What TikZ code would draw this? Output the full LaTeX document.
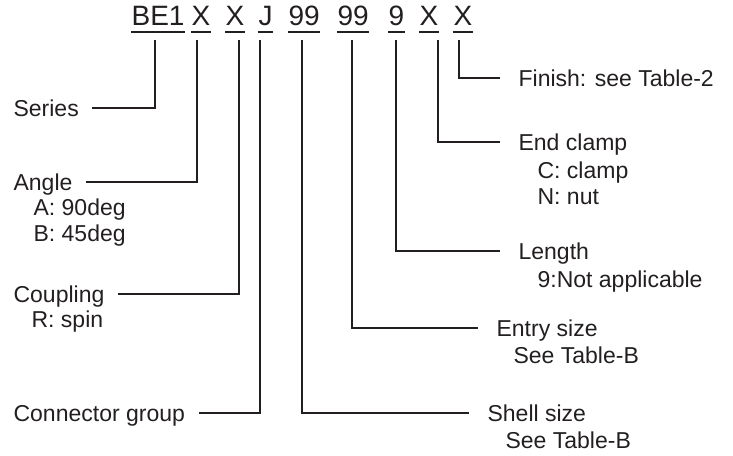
\documentclass[tikz,border=0pt]{standalone}
\usepackage{fontspec}
\setmainfont{Liberation Sans}
\usetikzlibrary{positioning}
\definecolor{ink}{HTML}{231F20}
\begin{document}
\begin{tikzpicture}[x=1pt,y=-1pt,line width=1.2pt,draw=ink]
  \tikzstyle{code}=[inner sep=0pt,text depth=0pt,anchor=base west,font=\fontsize{28}{32}\selectfont,text=ink]
  \tikzstyle{lname}=[inner xsep=13pt,inner ysep=0pt,text height=16pt,text depth=0pt,anchor=west,font=\fontsize{23}{27}\selectfont,text=ink]
  \tikzstyle{rname}=[lname,inner xsep=18pt]
  \tikzstyle{opt}=[inner sep=0pt,anchor=base west,font=\fontsize{23}{27}\selectfont,text=ink]
  \useasboundingbox (0,0) rectangle (733,455);
  % part number fields
  \node[code] (be) at (131,25) {BE1};
  \node[code] (xa) at (191,25) {X};
  \node[code] (xb) at (225,25) {X};
  \node[code] (j) at (258,25) {J};
  \node[code] (nsh) at (288,25) {99};
  \node[code] (nen) at (337,25) {99};
  \node[code] (nlen) at (388,25) {9};
  \node[code] (xc) at (419,25) {X};
  \node[code] (xd) at (453,25) {X};
  \foreach \f in {be,xa,xb,j,nsh,nen,nlen,xc,xd}
    \draw[line width=1.5pt] ([yshift=-7pt]\f.base west) -- ([yshift=-7pt]\f.base east);
  % tops of the drop lines
  \coordinate (dbe) at (155,40);
  \coordinate (dxa) at (197,40);
  \coordinate (dxb) at (239,40);
  \coordinate (dj) at (260,40);
  \coordinate (dsh) at (302,40);
  \coordinate (den) at (352,40);
  \coordinate (dlen) at (396,40);
  \coordinate (dxc) at (438,40);
  \coordinate (dxd) at (459,40);
  % left side
  \node[lname] (series) at (0,108) {Series};
  \node[lname] (angle) at (0,182) {Angle};
  \node[opt] (angA) at (33,215) {A: 90deg};
  \node[opt] (angB) at (33,241) {B: 45deg};
  \node[lname] (coupling) at (0,294) {Coupling};
  \node[opt] (cplR) at (31,327) {R: spin};
  \node[lname] (group) at (0,413) {Connector group};
  % right side
  \node[rname] (finish) at (500,78) {Finish: see Table-2};
  \node[rname] (clamp) at (500,142) {End clamp};
  \node[opt] (clampC) at (537,178) {C: clamp};
  \node[opt] (clampN) at (537,204) {N: nut};
  \node[rname] (length) at (500,251) {Length};
  \node[opt] (lenNA) at (537,287) {9:Not applicable};
  \node[rname] (entry) at (478,328) {Entry size};
  \node[opt] (entryT) at (513,363) {See Table-B};
  \node[rname] (shell) at (469,413) {Shell size};
  \node[opt] (shellT) at (505,448) {See Table-B};
  % connectors
  \draw (dbe) |- (series);
  \draw (dxa) |- (angle);
  \draw (dxb) |- (coupling);
  \draw (dj) |- (group);
  \draw (dsh) |- (shell);
  \draw (den) |- (entry);
  \draw (dlen) |- (length);
  \draw (dxc) |- (clamp);
  \draw (dxd) |- (finish);
\end{tikzpicture}
\end{document}
